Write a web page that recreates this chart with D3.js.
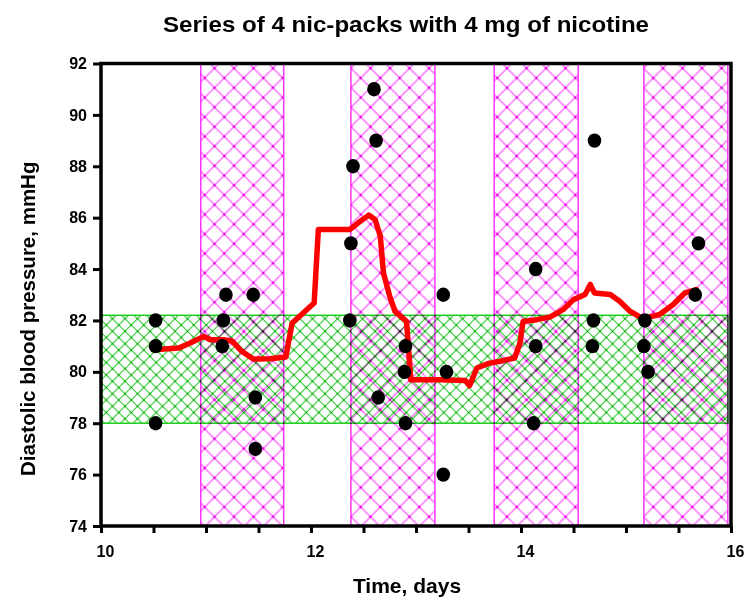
<!DOCTYPE html>
<html>
<head>
<meta charset="utf-8">
<script src="https://cdn.jsdelivr.net/npm/d3@7"></script>
<style>
  body { margin: 0; background: #fff; }
  text { font-family: "Liberation Sans", Arial, sans-serif; font-weight: bold; fill: #000; }
</style>
</head>
<body>
<svg id="chart" width="745" height="601"></svg>
<script>
// Individual diastolic readings (day, mmHg)
const dotDays = [10.52, 10.52, 10.52, 11.19, 11.165, 11.155, 11.45, 11.47, 11.47,
                 12.40, 12.38, 12.37, 12.60, 12.62, 12.64, 12.90, 12.89, 12.90,
                 13.26, 13.29, 13.26, 14.14, 14.14, 14.12, 14.70, 14.69, 14.68,
                 15.18, 15.17, 15.21, 15.69, 15.66];
const dotValues = [82, 81, 78, 83, 82, 81, 83, 79, 77,
                   88, 85, 82, 91, 89, 79, 81, 80, 78,
                   83, 80, 76, 84, 81, 78, 89, 82, 81,
                   82, 81, 80, 85, 83];

// Smoothed trend curve
const trendDays = [10.50, 10.74, 10.85, 10.98, 11.04, 11.17, 11.25, 11.34, 11.45, 11.61,
                   11.76, 11.82, 11.91, 12.03, 12.07, 12.37, 12.45, 12.55, 12.61, 12.66,
                   12.69, 12.75, 12.80, 12.91, 12.93, 12.95, 13.23, 13.47, 13.51, 13.58,
                   13.70, 13.80, 13.94, 13.99, 14.02, 14.15, 14.28, 14.40, 14.50, 14.61,
                   14.66, 14.70, 14.85, 14.94, 15.04, 15.15, 15.23, 15.32, 15.45, 15.56, 15.67];
const trendValues = [80.86, 80.93, 81.12, 81.38, 81.25, 81.25, 81.19, 80.80, 80.50, 80.51,
                     80.58, 81.90, 82.23, 82.68, 85.54, 85.54, 85.80, 86.10, 85.93, 85.28,
                     83.85, 82.94, 82.35, 81.96, 80.86, 79.69, 79.69, 79.66, 79.46, 80.15,
                     80.34, 80.41, 80.54, 81.12, 81.96, 82.03, 82.14, 82.42, 82.81, 83.01,
                     83.40, 83.07, 83.01, 82.75, 82.35, 82.10, 82.14, 82.23, 82.62, 83.07, 83.20];

// Nic-pack periods (start / end day)
const packStart = [10.95, 12.38, 13.745, 15.17];
const packEnd   = [11.74, 13.18, 14.545, 15.97];

// Reference (normal) range of diastolic pressure
const normalLow = 78;
const normalHigh = 82.2;

const xTicks = [10, 10.5, 11, 11.5, 12, 12.5, 13, 13.5, 14, 14.5, 15, 15.5, 16];
const xLabels = [10, 12, 14, 16];
const yTicks = [74, 76, 78, 80, 82, 84, 86, 88, 90, 92];

const svg = d3.select("#chart");
const plotLeft = 101, plotRight = 731, plotTop = 63.5, plotBottom = 526;

const x = d3.scaleLinear().domain([10, 16]).range([plotLeft, plotRight]);
const y = d3.scaleLinear().domain([74, 92]).range([plotBottom, plotTop]);

// Cross-hatch patterns
const defs = svg.append("defs");
function hatch(id, diag, lineColor, dotColor, dotR) {
  const s = diag / Math.SQRT2;
  const p = defs.append("pattern")
    .attr("id", id)
    .attr("patternUnits", "userSpaceOnUse")
    .attr("width", s).attr("height", s)
    .attr("patternTransform", "rotate(45)");
  p.append("line").attr("x1", 0).attr("x2", s).attr("y1", s / 2).attr("y2", s / 2)
    .attr("stroke", lineColor).attr("stroke-width", 1.1);
  p.append("line").attr("y1", 0).attr("y2", s).attr("x1", s / 2).attr("x2", s / 2)
    .attr("stroke", lineColor).attr("stroke-width", 1.1);
  p.append("circle").attr("cx", s / 2).attr("cy", s / 2).attr("r", dotR).attr("fill", dotColor);
}
hatch("hatchPink", 19.5, "#ff40ff", "#e000e0", 1.3);
hatch("hatchGreen", 12.5, "#2ecc2e", "#0f9f0f", 1.1);

const bands = svg.append("g").style("isolation", "isolate");

bands.append("rect")
  .attr("x", x(10)).attr("width", x(16) - x(10) - 3)
  .attr("y", y(normalHigh)).attr("height", y(normalLow) - y(normalHigh))
  .attr("fill", "url(#hatchGreen)")
  .attr("stroke", "#1ecc1e").attr("stroke-width", 1.5)
  .style("mix-blend-mode", "multiply");

bands.selectAll("rect.pack")
  .data(packStart.map((s, i) => [s, packEnd[i]]))
  .join("rect")
  .attr("class", "pack")
  .attr("x", d => x(d[0])).attr("width", d => x(d[1]) - x(d[0]))
  .attr("y", plotTop).attr("height", plotBottom - plotTop)
  .attr("fill", "url(#hatchPink)")
  .attr("stroke", "#ff33ff").attr("stroke-width", 1.5)
  .style("mix-blend-mode", "multiply");

// Axes
const xAxis = d3.axisBottom(x)
  .tickValues(xTicks)
  .tickFormat(d => xLabels.includes(d) ? d3.format("d")(d) : "")
  .tickSize(7).tickSizeOuter(0).tickPadding(13);
const gx = svg.append("g").attr("transform", `translate(0,${plotBottom})`).call(xAxis);
gx.selectAll("text").attr("font-size", 16).attr("dx", 4);

const yAxis = d3.axisLeft(y)
  .tickValues(yTicks)
  .tickFormat(d3.format("d"))
  .tickSize(8).tickSizeOuter(0).tickPadding(6);
const gy = svg.append("g").attr("transform", `translate(${plotLeft},0)`).call(yAxis);
gy.selectAll("text").attr("font-size", 16);

[gx, gy].forEach(g => {
  g.select(".domain").remove();
  g.selectAll(".tick line").attr("stroke", "#000").attr("stroke-width", 3);
  g.selectAll("text").attr("fill", "#000").attr("font-family", "Liberation Sans, Arial, sans-serif").attr("font-weight", "bold");
});

// Plot frame
svg.append("rect")
  .attr("x", plotLeft).attr("y", plotTop)
  .attr("width", plotRight - plotLeft).attr("height", plotBottom - plotTop)
  .attr("fill", "none").attr("stroke", "#000").attr("stroke-width", 3.5);

// Trend line
const line = d3.line().x(d => x(d[0])).y(d => y(d[1]));
svg.append("path")
  .datum(trendDays.map((d, i) => [d, trendValues[i]]))
  .attr("d", line)
  .attr("fill", "none").attr("stroke", "#ff0000")
  .attr("stroke-width", 5.5).attr("stroke-linejoin", "round").attr("stroke-linecap", "round");

// Readings
svg.selectAll("ellipse.reading")
  .data(dotDays.map((d, i) => [d, dotValues[i]]))
  .join("ellipse")
  .attr("class", "reading")
  .attr("cx", d => x(d[0])).attr("cy", d => y(d[1]))
  .attr("rx", 6.8).attr("ry", 7.2).attr("fill", "#000");

// Titles
svg.append("text")
  .attr("x", 406).attr("y", 32)
  .attr("text-anchor", "middle").attr("font-size", 21.5)
  .attr("textLength", 486).attr("lengthAdjust", "spacingAndGlyphs")
  .text("Series of 4 nic-packs with 4 mg of nicotine");

svg.append("text")
  .attr("x", 407).attr("y", 593)
  .attr("text-anchor", "middle").attr("font-size", 21)
  .text("Time, days");

svg.append("text")
  .attr("transform", "rotate(-90)")
  .attr("x", -(plotTop + plotBottom) / 2 - 24).attr("y", 35)
  .attr("text-anchor", "middle").attr("font-size", 20.5)
  .text("Diastolic blood pressure, mmHg");
</script>
</body>
</html>
